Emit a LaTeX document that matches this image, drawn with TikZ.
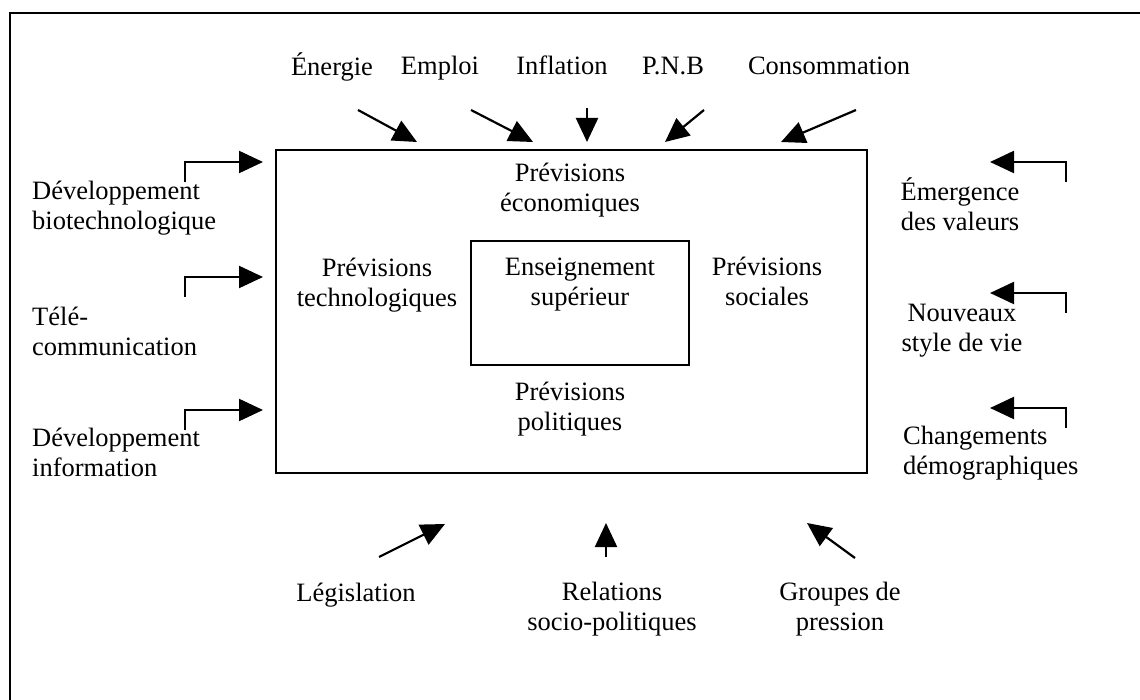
\documentclass[tikz,border=0pt]{standalone}
\usepackage{fontspec}
\setmainfont{Liberation Serif}
\usetikzlibrary{arrows.meta}
\begin{document}
\begin{tikzpicture}[x=1pt,y=-1pt,
  font=\fontsize{26.5}{30}\selectfont,
  lbl/.style={inner sep=0pt, align=center,
    execute at begin node=\strut, execute at end node=\strut},
  lbll/.style={lbl, align=left, anchor=west},
  frame/.style={line width=2.5pt},
  box/.style={draw, line width=2pt},
  arr/.style={line width=2.2pt, -{Triangle[length=24pt,width=22pt]}}]
\useasboundingbox (0,0) rectangle (1140,700);
% outer frame (cropped at right and bottom)
\coordinate (fbl) at (10,700);
\coordinate (ftl) at (10,13);
\coordinate (ftr) at (1140,13);
\draw[frame] (fbl) -- (ftl) -- (ftr);
% main and inner boxes
\node[box, minimum width=591pt, minimum height=323pt, inner sep=0pt] (main) at (571.5,311.5) {};
\node[box, minimum width=218pt, minimum height=124pt, inner sep=0pt] (inner) at (580,303) {};
% inner texts
\node[lbl] (eco) at (570,192) {Prévisions\\économiques};
\node[lbl] (tech) at (377,287) {Prévisions\\technologiques};
\node[lbl] (ens) at (580,286) {Enseignement\\supérieur};
\node[lbl] (soc) at (767,286) {Prévisions\\sociales};
\node[lbl] (pol) at (570,411) {Prévisions\\politiques};
% top labels
\node[lbl] (ene) at (332,69) {Énergie};
\node[lbl] (emp) at (440,69) {Emploi};
\node[lbl] (inf) at (562,69) {Inflation};
\node[lbl] (pnb) at (673,69) {P.N.B};
\node[lbl] (con) at (829,69) {Consommation};
% top arrows
\coordinate (t1) at (358,110); \coordinate (h1) at (417,142);
\coordinate (t2) at (471,110); \coordinate (h2) at (533,142);
\coordinate (t3) at (587,108); \coordinate (h3) at (587,142);
\coordinate (t4) at (704,110); \coordinate (h4) at (665,142);
\coordinate (t5) at (856,110); \coordinate (h5) at (781,142);
\draw[arr] (t1) -- (h1);
\draw[arr] (t2) -- (h2);
\draw[arr] (t3) -- (h3);
\draw[arr] (t4) -- (h4);
\draw[arr] (t5) -- (h5);
% left labels
\node[lbll] (l1) at (32,210) {Développement\\biotechnologique};
\node[lbll] (l2) at (32,336) {Télé-\\communication};
\node[lbll] (l3) at (32,457) {Développement\\information};
% left arrows
\coordinate (ls1) at (185,182); \coordinate (lh1) at (263,162);
\coordinate (ls2) at (185,297); \coordinate (lh2) at (263,277);
\coordinate (ls3) at (185,430); \coordinate (lh3) at (263,410);
\draw[arr] (ls1) |- (lh1);
\draw[arr] (ls2) |- (lh2);
\draw[arr] (ls3) |- (lh3);
% right labels
\node[lbl] (r1) at (960,209) {Émergence\\des valeurs};
\node[lbl] (r2) at (962,332) {Nouveaux\\style de vie};
\node[lbll] (r3) at (903,455) {Changements\\démographiques};
% right arrows
\coordinate (rs1) at (1066,182); \coordinate (rh1) at (990,162);
\coordinate (rs2) at (1066,313); \coordinate (rh2) at (990,293);
\coordinate (rs3) at (1066,428); \coordinate (rh3) at (990,408);
\draw[arr] (rs1) |- (rh1);
\draw[arr] (rs2) |- (rh2);
\draw[arr] (rs3) |- (rh3);
% bottom arrows
\coordinate (bt1) at (379,557); \coordinate (bh1) at (445,524);
\coordinate (bt2) at (606,557); \coordinate (bh2) at (606,523);
\coordinate (bt3) at (855,558); \coordinate (bh3) at (807,523);
\draw[arr] (bt1) -- (bh1);
\draw[arr] (bt2) -- (bh2);
\draw[arr] (bt3) -- (bh3);
% bottom labels
\node[lbl] (leg) at (356,595) {Législation};
\node[lbl] (rel) at (612,611) {Relations\\socio-politiques};
\node[lbl] (gro) at (840,611) {Groupes de\\pression};
\end{tikzpicture}
\end{document}
